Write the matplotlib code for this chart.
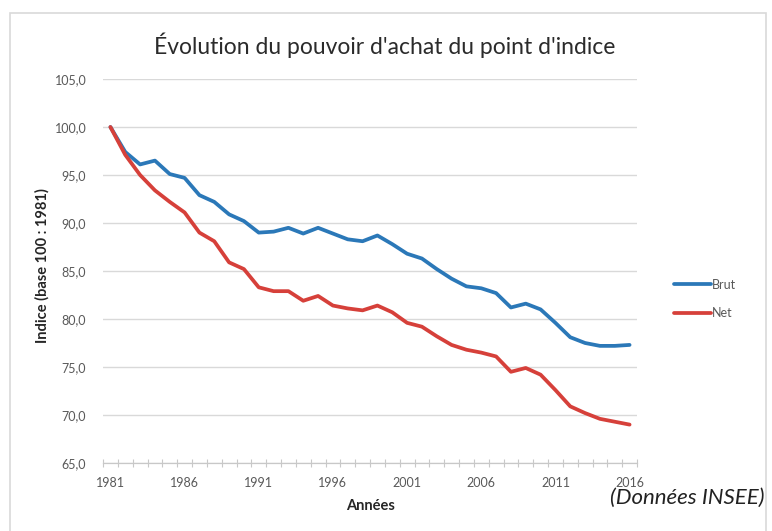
import matplotlib
matplotlib.use("Agg")
import matplotlib.pyplot as plt
from matplotlib.patches import Rectangle
from matplotlib.ticker import FuncFormatter

plt.rcParams['font.family'] = ['Lato', 'DejaVu Sans']

# Données (base 100 en 1981)
annees = list(range(1981, 2017))
brut = [100.0, 97.4, 96.1, 96.5, 95.1, 94.7, 92.9, 92.2, 90.9, 90.2,
        89.0, 89.1, 89.5, 88.9, 89.5, 88.9, 88.3, 88.1, 88.7, 87.8,
        86.8, 86.3, 85.2, 84.2, 83.4, 83.2, 82.7, 81.2, 81.6, 81.0,
        79.6, 78.1, 77.5, 77.2, 77.2, 77.3]
net = [100.0, 97.1, 95.0, 93.4, 92.2, 91.1, 89.0, 88.1, 85.9, 85.2,
       83.3, 82.9, 82.9, 81.9, 82.4, 81.4, 81.1, 80.9, 81.4, 80.7,
       79.6, 79.2, 78.2, 77.3, 76.8, 76.5, 76.1, 74.5, 74.9, 74.2,
       72.6, 70.9, 70.2, 69.6, 69.3, 69.0]
yticks = [65, 70, 75, 80, 85, 90, 95, 100, 105]

W, H = 772, 531
fig = plt.figure(figsize=(W / 100, H / 100), dpi=100)
fig.patch.set_facecolor('white')

# cadre gris clair autour du graphique
fig.patches.append(Rectangle((10 / W, -0.05), 756 / W, 1.05 - 13 / H,
                             transform=fig.transFigure, fill=False,
                             edgecolor='#d9d9d9', linewidth=1.2))

ax = fig.add_axes([103 / W, 1 - 463 / H, 534 / W, 384 / H])
x = list(range(len(annees)))
ax.plot(x, brut, color='#2b78b8', lw=2.7, solid_joinstyle='round',
        solid_capstyle='round', label='Brut', zorder=3)
ax.plot(x, net, color='#d6403a', lw=2.7, solid_joinstyle='round',
        solid_capstyle='round', label='Net', zorder=4)

ax.set_xlim(-0.5, len(annees) - 0.5)
ax.set_ylim(65, 105)
ax.set_yticks(yticks)
ax.yaxis.set_major_formatter(FuncFormatter(lambda v, p: f"{v:.1f}".replace('.', ',')))
ax.grid(axis='y', color='#d9d9d9', lw=1)
ax.set_axisbelow(True)

# ticks entre les catégories, étiquettes tous les 5 ans
ax.set_xticks([i - 0.5 for i in range(len(annees) + 1)], minor=False)
ax.set_xticklabels([])
ax.set_xticks([i for i in range(0, len(annees), 5)], minor=True)
ax.set_xticklabels([str(annees[i]) for i in range(0, len(annees), 5)], minor=True)
ax.tick_params(axis='x', which='major', direction='inout', length=6,
               color='#c8c8c8', width=0.8)
ax.tick_params(axis='x', which='minor', length=0, pad=10,
               labelsize=9, labelcolor='#595959')
ax.tick_params(axis='y', length=0, pad=12, labelsize=9, labelcolor='#595959')

for s in ['top', 'right', 'left']:
    ax.spines[s].set_visible(False)
ax.spines['bottom'].set_color('#c8c8c8')
ax.spines['bottom'].set_linewidth(0.9)

fig.text(385 / W, 1 - 45 / H, "Évolution du pouvoir d'achat du point d'indice",
         ha='center', va='center', fontsize=16.5, color='#2b2b2b')
fig.text(42 / W, 1 - 266 / H, "Indice (base 100 : 1981)", rotation=90,
         ha='center', va='center', fontsize=10.5, fontweight='bold', color='#262626')
fig.text(371 / W, 1 - 506 / H, "Années", ha='center', va='center',
         fontsize=10.5, fontweight='bold', color='#262626')
fig.text(765 / W, 1 - 498 / H, "(Données INSEE)", ha='right', va='center',
         fontsize=16, style='italic', color='#222222')

leg = ax.legend(loc='center left', bbox_to_anchor=(668 / W, 1 - 299 / H),
                bbox_transform=fig.transFigure, frameon=False, fontsize=9,
                handlelength=2.9, handletextpad=0.1, labelspacing=1.35,
                borderpad=0)
for t in leg.get_texts():
    t.set_color('#595959')

fig.savefig('out.png', dpi=100, facecolor='white')
